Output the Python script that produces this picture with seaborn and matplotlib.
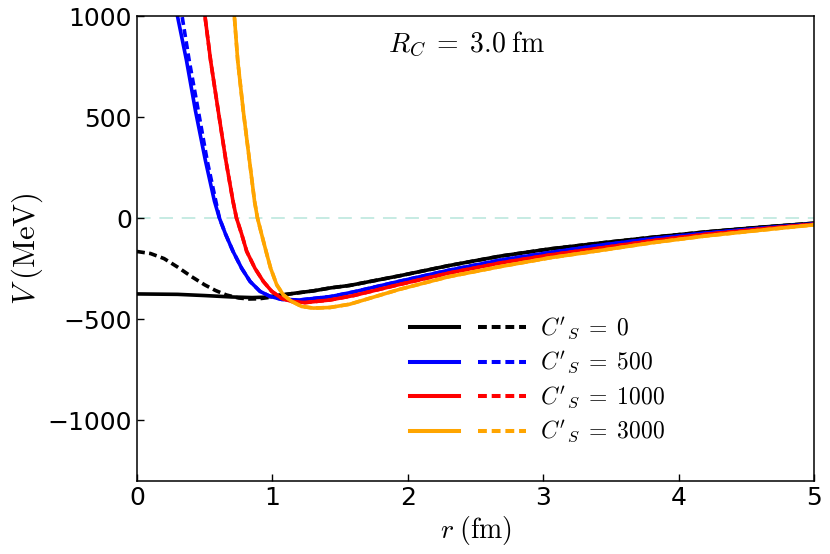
import numpy as np
import pandas as pd
import matplotlib
matplotlib.use("Agg")
import matplotlib.pyplot as plt
import seaborn as sns
from matplotlib.lines import Line2D
from matplotlib.legend_handler import HandlerTuple

# 読み取った値 (r in fm, V in MeV)
r_black = [0, 0.3, 0.5, 0.7, 0.85, 0.95, 1.05, 1.17, 1.3, 1.43, 1.57, 1.94, 2.3, 2.68, 3.05, 3.42, 3.8, 4.2, 4.6, 5.0]
v_black = [-375, -377, -383, -390, -393, -391, -382, -371, -360, -345, -333, -285, -235, -188, -152, -123, -95, -68, -45, -25]
r_black_head = [0, 0.1, 0.2, 0.3, 0.4, 0.5, 0.58, 0.66, 0.75, 0.83, 0.9, 0.97, 1.03]
v_black_head = [-165, -175, -200, -242, -288, -330, -358, -380, -395, -400, -399, -393, -385]

r_blue = [0.28, 0.299, 0.366, 0.432, 0.506, 0.572, 0.609, 0.654, 0.709, 0.773, 0.835, 0.908, 0.982, 1.069,
          1.2, 1.43, 1.6, 1.94, 2.3, 2.68, 3.05, 3.42, 3.8, 4.2, 4.6, 5.0]
v_blue = [1060, 1000, 779, 531, 283, 84, 0, -79, -164, -248, -313, -362, -387, -402,
          -405, -388, -365, -312, -258, -208, -170, -134, -102, -74, -50, -28]
r_blue_head = [0.32, 0.333, 0.386, 0.453, 0.519, 0.609]
v_blue_head = [1055, 1000, 779, 531, 283, 0]

r_red = [0.495, 0.502, 0.544, 0.600, 0.657, 0.709, 0.735, 0.773, 0.810, 0.871, 0.933, 0.995, 1.069, 1.142,
         1.24, 1.425, 1.6, 1.94, 2.3, 2.68, 3.05, 3.42, 3.8, 4.2, 4.6, 5.0]
v_red = [1050, 1000, 779, 531, 283, 84, 0, -79, -164, -248, -313, -362, -397, -412,
         -418, -405, -383, -328, -272, -222, -182, -148, -112, -80, -54, -30]

r_orange = [0.714, 0.719, 0.744, 0.785, 0.831, 0.868, 0.890, 0.920, 0.953, 0.987, 1.032, 1.081, 1.143, 1.216,
            1.302, 1.425, 1.57, 1.94, 2.3, 2.68, 3.05, 3.42, 3.8, 4.2, 4.6, 5.0]
v_orange = [1050, 1000, 779, 531, 283, 84, 0, -79, -164, -248, -330, -380, -412, -437,
            -445, -442, -426, -352, -290, -240, -196, -160, -122, -88, -60, -33]

cs_values = [0, 500, 1000, 3000]
colors = ["black", "blue", "red", "orange"]


def join_head(r_head, v_head, r_full, v_full):
    # 点線: 先頭だけ違って、あとは実線と同じ
    r_tail = [r for r in r_full if r > r_head[-1]]
    v_tail = [v for r, v in zip(r_full, v_full) if r > r_head[-1]]
    return r_head + r_tail, v_head + v_tail


solid = [(r_black, v_black), (r_blue, v_blue), (r_red, v_red), (r_orange, v_orange)]
dashed = [
    join_head(r_black_head, v_black_head, r_black, v_black),
    join_head(r_blue_head, v_blue_head, r_blue, v_blue),
    (r_red, v_red),
    (r_orange, v_orange),
]

plt.rcParams["mathtext.fontset"] = "cm"
dash = (0, (2.2, 1.2))
lw = 2.6

fig = plt.figure(figsize=(8.3, 5.54), dpi=100)
ax = fig.add_axes([0.165, 0.132, 0.816, 0.839])

ax.axhline(0, color="#c6ebe3", lw=1.4, linestyle=(0, (7, 4.5)), zorder=1)

for (rs, vs), (rd, vd), c in zip(solid, dashed, colors):
    df_s = pd.DataFrame({"r": rs, "V": vs})
    df_d = pd.DataFrame({"r": rd, "V": vd})
    sns.lineplot(data=df_s, x="r", y="V", color=c, lw=lw, estimator=None, ax=ax)
    sns.lineplot(data=df_d, x="r", y="V", color=c, lw=lw, linestyle=dash, estimator=None, ax=ax)

ax.set_xlim(0, 5)
ax.set_ylim(-1300, 1000)
ax.set_xticks([0, 1, 2, 3, 4, 5])
ax.set_yticks([-1000, -500, 0, 500, 1000])
ax.tick_params(direction="in", length=5, width=1, labelsize=18, top=False, right=False)
for s in ax.spines.values():
    s.set_linewidth(1.1)

ax.set_xlabel(r"$r\;(\mathrm{fm})$", fontsize=20, labelpad=3)
ax.set_ylabel(r"$V\;(\mathrm{MeV})$", fontsize=22, labelpad=2)
ax.text(0.37, 0.939, r"$R_C\;=\;3.0\;\mathrm{fm}$", transform=ax.transAxes,
        fontsize=20, ha="left", va="center")

handles = []
for c in colors:
    h1 = Line2D([], [], color=c, lw=lw + 0.3)
    h2 = Line2D([], [], color=c, lw=lw + 0.3, linestyle=dash)
    handles.append((h1, h2))
labels = [rf"$C'_S\;=\;{v}$" for v in cs_values]
ax.legend(handles, labels, handler_map={tuple: HandlerTuple(ndivide=None, pad=0.8)},
          loc="center", bbox_to_anchor=(0.592, 0.216), frameon=False,
          fontsize=17, handlelength=4.9, handletextpad=0.6, labelspacing=0.35)

fig.savefig("out.png", dpi=100)
